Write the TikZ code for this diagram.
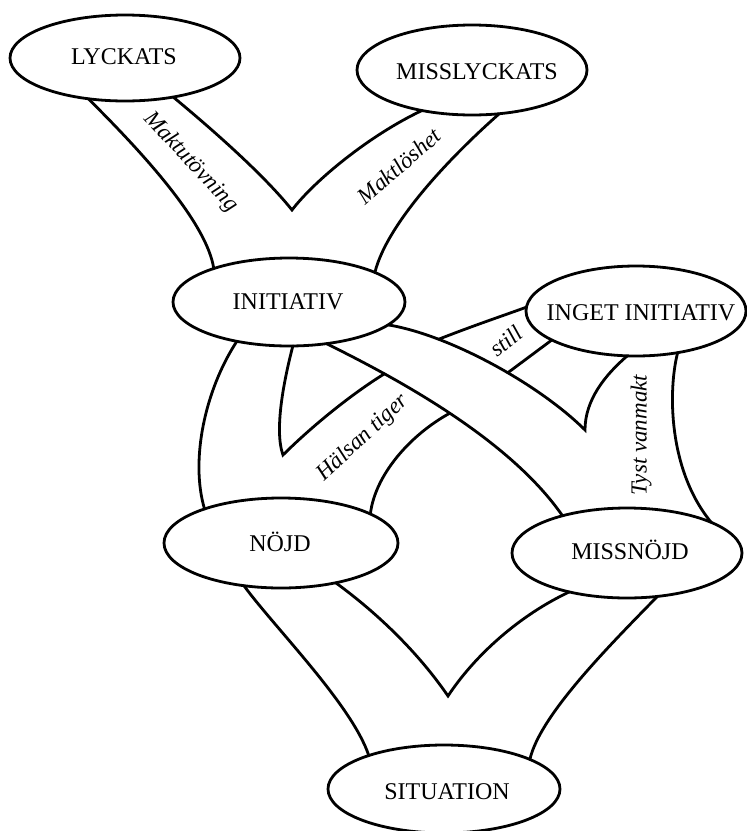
\documentclass[tikz,border=0pt]{standalone}
\usepackage{fontspec}
\setmainfont{Liberation Serif}
\usetikzlibrary{shapes.geometric}
\begin{document}
\begin{tikzpicture}[x=1pt,y=-1pt,
  oval/.style={draw, ellipse, line width=2.8pt, inner sep=0pt, outer sep=0pt},
  captext/.style={font=\fontsize{24}{28}\selectfont, inner sep=0pt},
  lab/.style={font=\fontsize{23}{27}\selectfont\itshape, inner sep=0pt},
  band/.style={line width=2.8pt, line join=miter, line cap=round}]
\useasboundingbox (0,0) rectangle (747,831);
% ellipses
\node[oval, minimum width=230pt, minimum height=86pt] (lyc) at (125,58) {};
\node[oval, minimum width=230pt, minimum height=90pt] (mis) at (472,70) {};
\node[oval, minimum width=232pt, minimum height=88pt] (ini) at (289,302) {};
\node[oval, minimum width=220pt, minimum height=90pt] (ing) at (636,311) {};
\node[oval, minimum width=234pt, minimum height=90pt] (noj) at (281,543) {};
\node[oval, minimum width=230pt, minimum height=90pt] (mno) at (627,553) {};
\node[oval, minimum width=232pt, minimum height=88pt] (sit) at (444,789) {};
% texts
\node[captext] (lyct) at (124,57) {LYCKATS};
\node[captext] (mist) at (477,72) {MISSLYCKATS};
\node[captext] (init) at (288,302) {INITIATIV};
\node[captext] (ingt) at (641,313) {INGET INITIATIV};
\node[captext] (nojt) at (280,542) {NÖJD};
\node[captext] (mnot) at (630,550) {MISSNÖJD};
\node[captext] (sitt) at (447,792) {SITUATION};
% V points
\coordinate (v1) at (292,210);
\coordinate (v2) at (283,455);
\coordinate (v3) at (585,430);
\coordinate (v4) at (448,696);
% top
\draw[band] (lyc.-132) .. controls (150,160) and (207,225) .. (ini.156);
\draw[band] (lyc.-39) .. controls (225,140) and (268,180) .. (v1) .. controls (315,180) and (370,135) .. (mis.-141);
\draw[band] (mis.-58) .. controls (458,150) and (388,220) .. (ini.19);
% middle
\draw[band] (ini.-143) .. controls (205,390) and (190,460) .. (noj.156);
\path (ini.-48.5) .. controls (400,380) and (510,440) .. (mno.150) coordinate[pos=.24] (c1) coordinate[pos=.49] (c2);
\draw[band] (ini.-48.5) .. controls (400,380) and (510,440) .. (mno.150);
\draw[band] (ini.-85) .. controls (284,380) and (274,430) .. (v2) .. controls (310,428) and (350,395) .. (c1);
\draw[band] (c2) .. controls (410,435) and (375,475) .. (noj.18);
\path (ini.-13.5) .. controls (450,335) and (540,385) .. (v3) coordinate[pos=.25] (d1) coordinate[pos=.57] (d2);
\draw[band] (ini.-13.5) .. controls (450,335) and (540,385) .. (v3) .. controls (585,400) and (605,375) .. (ing.-101);
\draw[band] (d1) .. controls (475,325) and (505,315) .. (ing.178);
\draw[band] (d2) -- (ing.-161);
\draw[band] (ing.-45) .. controls (668,390) and (668,470) .. (mno.20);
% bottom
\draw[band] (noj.-131) .. controls (275,628) and (352,705) .. (sit.156);
\draw[band] (noj.-36) .. controls (380,615) and (420,655) .. (v4) .. controls (475,655) and (520,615) .. (mno.-146);
\draw[band] (mno.-55) .. controls (610,645) and (540,715) .. (sit.19);
% labels
\node[lab, rotate=-47] (l1) at (191,162) {Maktutövning};
\node[lab, rotate=41] (l2) at (399,166) {Maktlöshet};
\node[lab, rotate=39] (l3) at (506,341) {still};
\node[lab, rotate=43] (l4) at (363,438) {Hälsan tiger};
\node[lab, rotate=90] (l5) at (641,435) {Tyst vanmakt};
\end{tikzpicture}
\end{document}
